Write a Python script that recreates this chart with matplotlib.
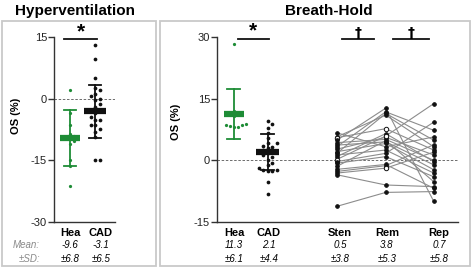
import numpy as np
import matplotlib
matplotlib.use("Agg")
import matplotlib.pyplot as plt
from matplotlib.patches import Rectangle

plt.rcParams['font.family'] = ['Liberation Sans', 'DejaVu Sans']

# ---------------- data ----------------
hv_groups = ["Hea", "CAD"]
hv_hea = [2.2, -3.5, -6.5, -8.5, -9.2, -9.8, -10.3, -11.0, -15.0, -16.3, -21.3]
hv_cad = [13.1, 9.6, 5.1, 2.7, 2.0, 1.2, 0.6, 0.0, -0.4, -1.2, -2.0, -2.8, -2.8,
          -3.6, -4.5, -5.3, -5.3, -6.5, -6.5, -7.3, -8.1, -9.3, -15.0, -15.0]
hv_mean = [-9.6, -3.1]
hv_sd = [6.8, 6.5]

bh_groups = ["Hea", "CAD", "Sten", "Rem", "Rep"]
bh_hea = [28.2, 12.0, 11.4, 10.8, 8.8, 8.6, 8.4, 8.2, 8.6, 8.0]
bh_cad = [9.6, 8.8, 7.8, 6.6, 5.5, 4.1, 4.1, 3.6, 3.3, 3.0, 2.5, 2.0, 1.7, 1.2,
          0.9, 0.2, -0.7, -1.2, -1.9, -2.4, -2.4, -2.6, -2.6, -5.2, -8.2]
bh_mean = [11.3, 2.1, 0.5, 3.8, 0.7]
bh_sd = [6.1, 4.4, 3.8, 5.3, 5.8]

sten = [6.7, 5.7, 5.5, 4.9, 4.3, 3.7, 3.3, 2.7, 2.1, 1.7, 1.3, 0.9, 0.2, -0.3,
        -0.7, -1.5, -2.2, -2.7, -3.1, -3.5, -11.2]
rem = [3.3, 11.0, 7.7, 12.7, 5.1, 4.5, 11.8, 5.6, 4.1, 11.4, 2.5, 6.5, 5.9, 1.7,
       0.9, 4.8, -1.0, -1.3, -1.9, -6.0, -7.8]
rep = [5.7, 3.3, 2.5, -10.0, 0.0, -1.1, 7.3, 1.3, -2.3, 4.9, -3.1, -0.3, 13.8, 9.3,
       -4.0, -5.2, -6.8, 3.8, 2.0, -6.4, -7.6]
sten_open = [False, False, True, False, False, False, False, False, False, False, False,
             False, True, False, False, False, False, False, False, False, False]
rem_open = [False, False, True, False, False, False, False, False, False, False, False,
            False, True, False, False, False, False, False, True, False, False]

hv_ticks = [-30, -15, 0, 15]
bh_ticks = [-15, 0, 15, 30]

# ---------------- style ----------------
GREEN = '#1e8c36'
BLACK = '#111111'
GRAY = '#8a8a8a'
W, H = 472, 269

fig = plt.figure(figsize=(W / 100, H / 100), dpi=100)


def fx(px):
    return px / W


def fy(py):
    return 1 - py / H


def swarm(vals, yunit_px, xunit_px, diam=3.2):
    vals = np.asarray(vals, float)
    order = np.argsort(vals)
    placed = []
    offs = np.zeros(len(vals))
    for i in order:
        y = vals[i] * yunit_px
        for k in [0, 1, -1, 2, -2, 3, -3, 4, -4]:
            x = k * diam
            ok = all((x - px) ** 2 + (y - py) ** 2 >= diam ** 2 * 0.9 for px, py in placed)
            if ok:
                break
        placed.append((x, y))
        offs[i] = x / xunit_px
    return offs


def style_axes(ax, ticks):
    for s in ['top', 'right']:
        ax.spines[s].set_visible(False)
    for s in ['left', 'bottom']:
        ax.spines[s].set_color('#333333')
        ax.spines[s].set_linewidth(1.0)
    ax.set_yticks(ticks)
    ax.set_yticklabels([str(t) for t in ticks])
    ax.tick_params(axis='y', length=4, width=1.0, color='#333333', pad=1,
                   labelsize=8, labelcolor='#222222')
    ax.set_xticks([])
    ax.axhline(0, color='#555555', lw=0.6, ls=(0, (3, 2)), zorder=0)


def group_plot(ax, x, vals, mean, sd, color, xunit_px, yunit_px, bar_w, cap_w, ms, diam):
    offs = swarm(vals, yunit_px, xunit_px, diam=diam)
    ax.scatter(np.full(len(vals), x) + offs, vals, s=ms ** 2 * 0.8, color=color,
               zorder=3, linewidths=0)
    ax.plot([x, x], [mean - sd, mean + sd], color=color, lw=1.3, zorder=4)
    for v in (mean - sd, mean + sd):
        ax.plot([x - cap_w / 2, x + cap_w / 2], [v, v], color=color, lw=1.3, zorder=4)
    ax.plot([x - bar_w / 2, x + bar_w / 2], [mean, mean], color=color, lw=4.5,
            solid_capstyle='butt', zorder=5)


# ---------------- panel borders ----------------
for (x0, x1) in [(2, 156), (160, 470)]:
    fig.patches.append(Rectangle((fx(x0), fy(266)), fx(x1) - fx(x0), fy(21) - fy(266),
                                 transform=fig.transFigure, fill=False,
                                 edgecolor='#c9c9c9', lw=1.3))

yu = 185 / 45.0

# ---------------- hyperventilation panel ----------------
axL = fig.add_axes([fx(54), fy(222), fx(115) - fx(54), fy(37) - fy(222)])
hv_pos = [1.0, 2.0]
axL.set_xlim(0.36, 2.8)
axL.set_ylim(-30, 15)
style_axes(axL, hv_ticks)
xu_L = 25.0
group_plot(axL, hv_pos[0], hv_hea, hv_mean[0], hv_sd[0], GREEN, xu_L, yu,
           bar_w=20 / xu_L, cap_w=12 / xu_L, ms=2.6, diam=3.5)
group_plot(axL, hv_pos[1], hv_cad, hv_mean[1], hv_sd[1], BLACK, xu_L, yu,
           bar_w=22 / xu_L, cap_w=12 / xu_L, ms=3.0, diam=4.5)
axL.plot([0.76, 2.08], [14.5, 14.5], color=BLACK, lw=1.3, clip_on=False)
axL.text(1.42, 14.0, '*', ha='center', va='bottom', fontsize=15, fontweight='bold',
         clip_on=False)

# ---------------- breath-hold panel ----------------
axR = fig.add_axes([fx(217), fy(222), fx(458) - fx(217), fy(37) - fy(222)])
bh_pos = [1.0, 1.70, 3.12, 4.13, 5.12]
axR.set_xlim(0.65, 5.62)
axR.set_ylim(-15, 30)
style_axes(axR, bh_ticks)
xu_R = 48.5
group_plot(axR, bh_pos[0], bh_hea, bh_mean[0], bh_sd[0], GREEN, xu_R, yu,
           bar_w=20 / xu_R, cap_w=13 / xu_R, ms=2.6, diam=4.0)
group_plot(axR, bh_pos[1], bh_cad, bh_mean[1], bh_sd[1], BLACK, xu_R, yu,
           bar_w=23 / xu_R, cap_w=13 / xu_R, ms=3.0, diam=4.5)

px3 = bh_pos[2:]
for i in range(len(sten)):
    axR.plot(px3, [sten[i], rem[i], rep[i]], color='#8c8c8c', lw=0.8, zorder=2)
for xpos, vals, opn in [(px3[0], sten, sten_open), (px3[1], rem, rem_open),
                        (px3[2], rep, [False] * len(rep))]:
    for v, o in zip(vals, opn):
        axR.plot([xpos], [v], 'o', ms=2.6 if not o else 3.2,
                 mfc='white' if o else BLACK, mec=BLACK, mew=0.7, zorder=3)

axR.plot([1.083, 1.72], [29.6, 29.6], color=BLACK, lw=1.3, clip_on=False)
axR.text(1.40, 29.1, '*', ha='center', va='bottom', fontsize=15, fontweight='bold',
         clip_on=False)
for (a, b) in [(3.227, 3.887), (4.279, 5.02)]:
    axR.plot([a, b], [29.4, 29.4], color=BLACK, lw=1.3, clip_on=False)
    axR.text((a + b) / 2, 29.2, '\u2020', ha='center', va='bottom', fontsize=10,
             clip_on=False, family=['DejaVu Sans'], fontweight='bold')

# ---------------- texts ----------------
fig.text(fx(75), fy(11), 'Hyperventilation', ha='center', va='center',
         fontsize=11, fontweight='bold')
fig.text(fx(329), fy(11), 'Breath-Hold', ha='center', va='center',
         fontsize=11, fontweight='bold')
fig.text(fx(16), fy(116), 'OS (%)', rotation=90, ha='center', va='center',
         fontsize=8, fontweight='bold')
fig.text(fx(176), fy(122), 'OS (%)', rotation=90, ha='center', va='center',
         fontsize=8, fontweight='bold')

fig.text(fx(40), fy(245), 'Mean:', ha='right', va='center', fontsize=7,
         style='italic', color=GRAY)
fig.text(fx(40), fy(259), '\u00b1SD:', ha='right', va='center', fontsize=7,
         style='italic', color=GRAY)

# label columns (pixel x centres of the text under each axis)
hv_label_x = [70, 101]
bh_label_x = [234, 269, 340, 387, 439]
for lx, names, means, sds in [(hv_label_x, hv_groups, hv_mean, hv_sd),
                              (bh_label_x, bh_groups, bh_mean, bh_sd)]:
    for p, n, m, s in zip(lx, names, means, sds):
        fig.text(fx(p), fy(233), n, ha='center', va='center', fontsize=8,
                 fontweight='bold')
        fig.text(fx(p), fy(245), f'{m:.1f}', ha='center', va='center', fontsize=7,
                 style='italic')
        fig.text(fx(p), fy(259), f'\u00b1{s:.1f}', ha='center', va='center', fontsize=7,
                 style='italic')

fig.savefig('out.png', dpi=100)
